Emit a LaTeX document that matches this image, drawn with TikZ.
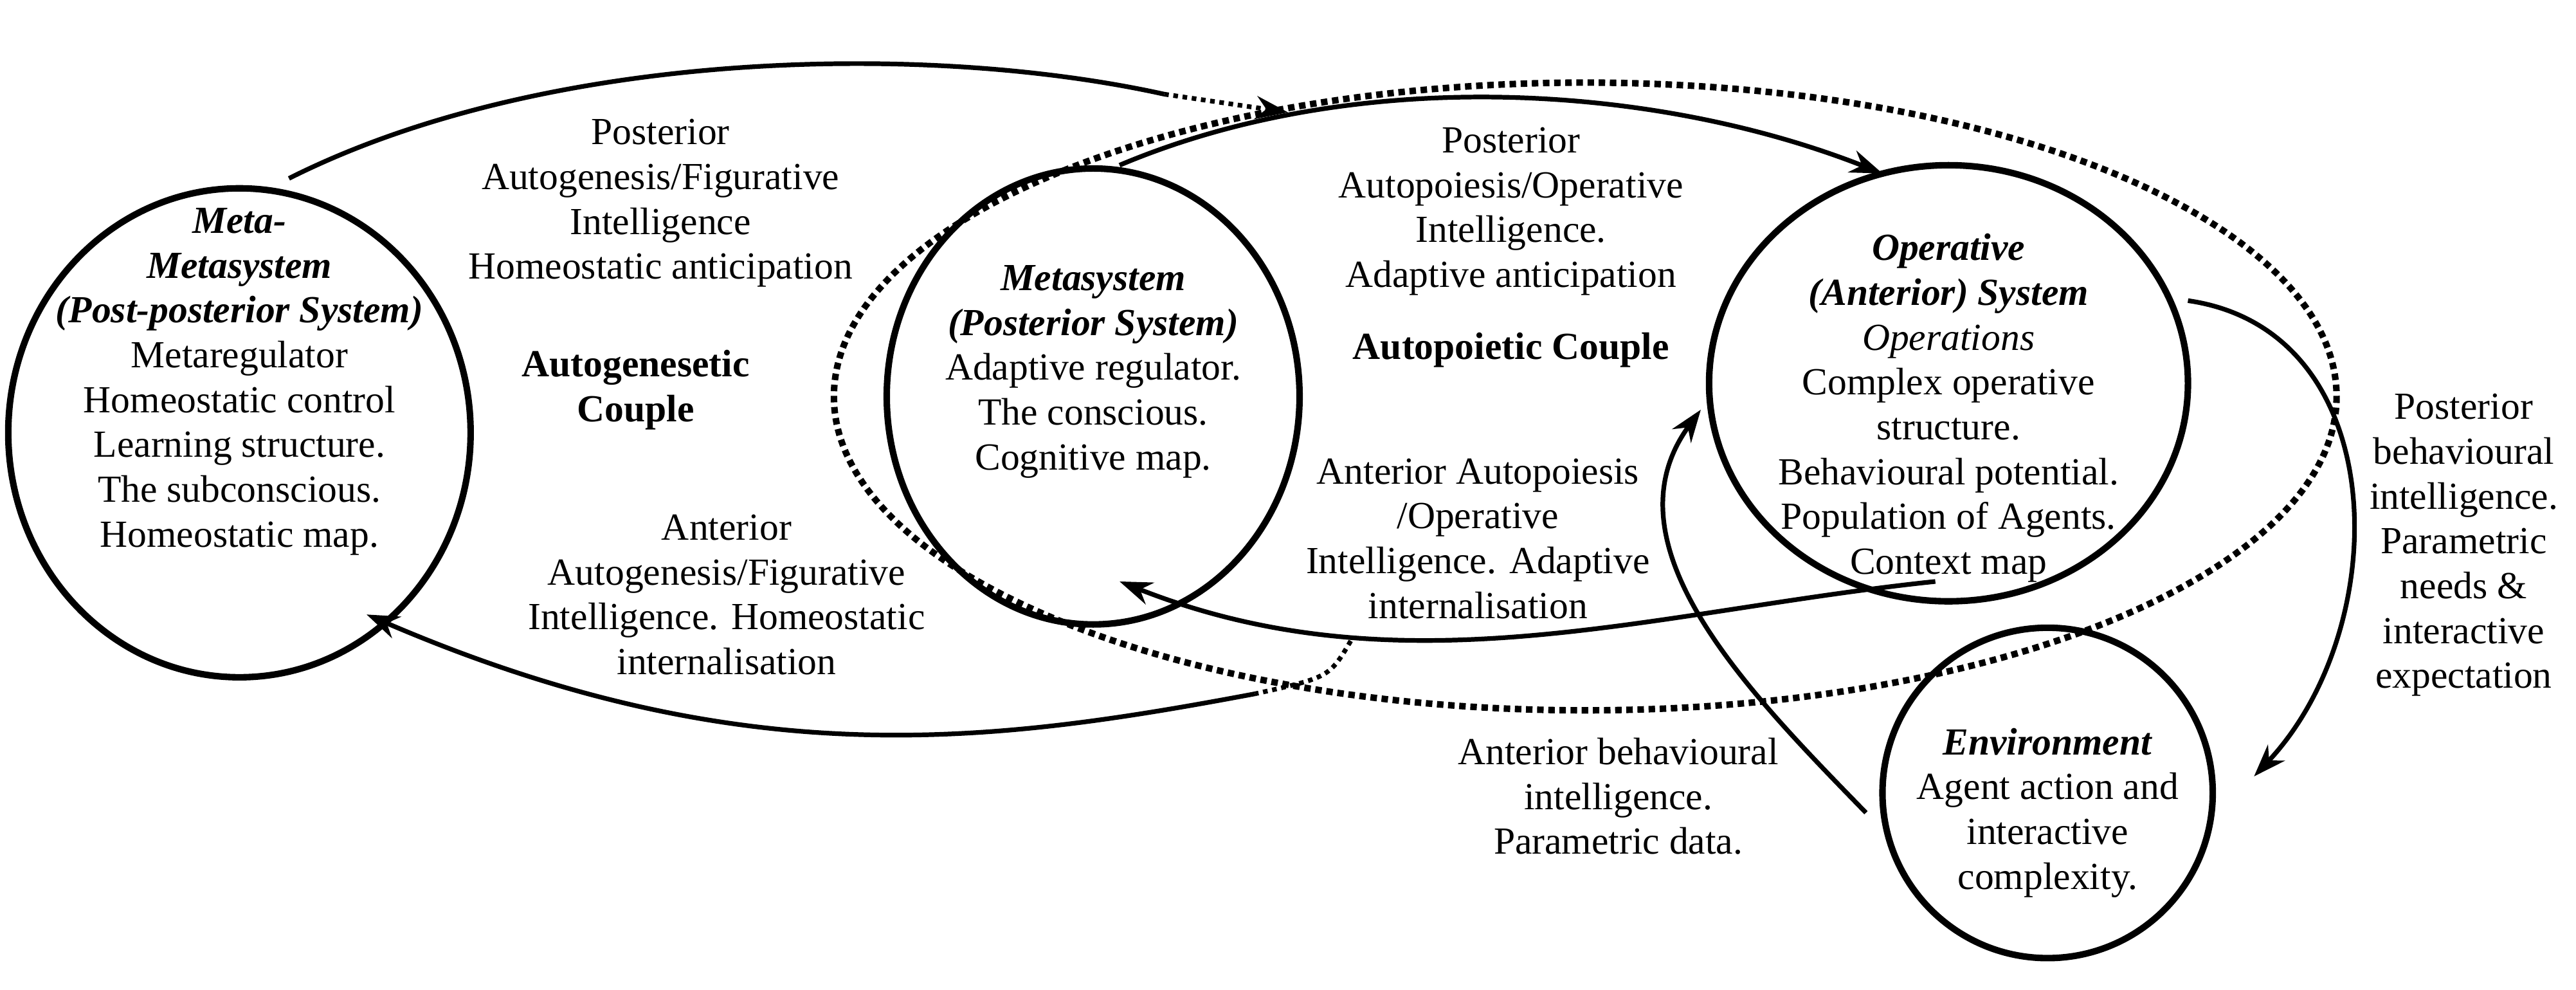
\documentclass[tikz,border=0pt]{standalone}
\usepackage{fontspec}
\setmainfont{Liberation Serif}
\usetikzlibrary{arrows.meta}
\begin{document}
\begin{tikzpicture}[x=0.025cm,y=-0.025cm,
  txt/.style={align=center,inner sep=0pt,font=\fontsize{16.5}{19.3}\selectfont},
  shp/.style={draw,line width=2.8pt},
  arr/.style={line width=2pt,-{Stealth[length=14pt,width=10pt]}},
  ln/.style={line width=2pt}]
\useasboundingbox (0,0) rectangle (1560,599);
% shapes
\draw[shp] (145,262) ellipse [x radius=140,y radius=148];
\draw[shp] (662,240) ellipse [x radius=125,y radius=138];
\draw[shp] (1180,232) ellipse [x radius=145,y radius=132];
\draw[shp] (1240,480) ellipse [x radius=100,y radius=100];
\draw[line width=2.8pt,dotted] (960,240) ellipse [x radius=455,y radius=190];
% coordinates
\coordinate (a1) at (175,108);
\coordinate (a2) at (705,57);
\coordinate (a3) at (780,68);
\coordinate (b1) at (678,100);
\coordinate (b2) at (1140,105);
\coordinate (c1) at (1172,352);
\coordinate (c2) at (678,352);
\coordinate (d0) at (818,388);
\coordinate (d1) at (760,420);
\coordinate (d2) at (222,372);
\coordinate (e1) at (1325,182);
\coordinate (e2) at (1365,470);
\coordinate (f1) at (1130,492);
\coordinate (f2) at (1030,248);
% connectors
\draw[ln] (a1) .. controls (330,30) and (560,25) .. (a2);
\draw[line width=2pt,dotted,-{Stealth[length=14pt,width=10pt]}] (a2) -- (a3);
\draw[arr] (b1) .. controls (820,40) and (1000,50) .. (b2);
\draw[arr] (c1) .. controls (1000,370) and (850,420) .. (c2);
\draw[line width=2pt,dotted] (d0) .. controls (805,410) .. (d1);
\draw[arr] (d1) .. controls (600,450) and (450,470) .. (d2);
\draw[arr] (e1) .. controls (1450,200) and (1450,380) .. (e2);
\draw[arr] (f1) .. controls (1060,420) and (970,330) .. (f2);
% texts in shapes
\node[txt] (t1) at (145,231) {\textbf{\textit{Meta-}}\\\textbf{\textit{Metasystem}}\\\textbf{\textit{(Post-posterior System)}}\\Metaregulator\\Homeostatic control\\Learning structure.\\The subconscious.\\Homeostatic map.};
\node[txt] (t2) at (662,225) {\textbf{\textit{Metasystem}}\\\textbf{\textit{(Posterior System)}}\\Adaptive regulator.\\The conscious.\\Cognitive map.};
\node[txt] (t3) at (1180,247) {\textbf{\textit{Operative}}\\\textbf{\textit{(Anterior) System}}\\\textit{Operations}\\Complex operative\\structure.\\Behavioural potential.\\Population of Agents.\\Context map};
\node[txt] (t4) at (1240,492) {\textbf{\textit{Environment}}\\Agent action and\\interactive\\complexity.};
% labels
\node[txt] (l1) at (400,123) {Posterior\\Autogenesis/Figurative\\Intelligence\\Homeostatic anticipation};
\node[txt] (l2) at (385,236) {\textbf{Autogenesetic}\\\textbf{Couple}};
\node[txt] (l3) at (440,360) {Anterior\\Autogenesis/Figurative\\Intelligence. Homeostatic\\internalisation};
\node[txt] (l4) at (915,128) {Posterior\\Autopoiesis/Operative\\Intelligence.\\Adaptive anticipation};
\node[txt] (l5) at (915,212) {\textbf{Autopoietic Couple}};
\node[txt] (l6) at (895,326) {Anterior Autopoiesis\\/Operative\\Intelligence. Adaptive\\internalisation};
\node[txt] (l7) at (1492,330) {Posterior\\behavioural\\intelligence.\\Parametric\\needs \&\\interactive\\expectation};
\node[txt] (l8) at (980,482) {Anterior behavioural\\intelligence.\\Parametric data.};
\end{tikzpicture}
\end{document}
